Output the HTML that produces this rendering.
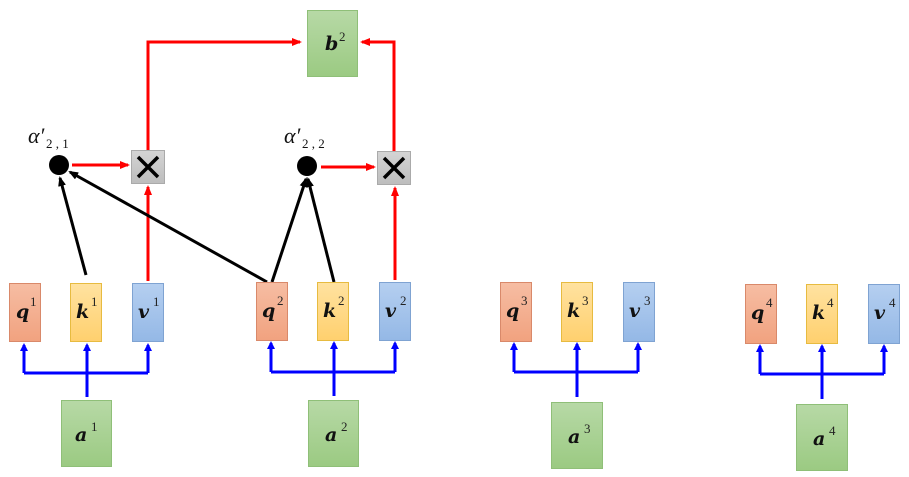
<!DOCTYPE html>
<html><head><meta charset="utf-8"><style>
html,body{margin:0;padding:0;background:#fff;}
svg{display:block;}
.lbl{font-family:"DejaVu Serif","Liberation Serif",serif;font-weight:bold;font-style:italic;font-size:19px;fill:#111;}
.sup{font-family:"Liberation Serif",serif;font-size:13px;fill:#222;}
.al{font-family:"Liberation Serif",serif;font-style:italic;font-size:22px;fill:#111;}
.als{font-family:"Liberation Serif",serif;font-size:13px;fill:#111;}
</style></head><body>
<svg width="909" height="477" viewBox="0 0 909 477" xmlns="http://www.w3.org/2000/svg">
<defs>
<linearGradient id="gq" x1="0" y1="0" x2="0" y2="1"><stop offset="0" stop-color="#f6bda3"/><stop offset="1" stop-color="#f1a27f"/></linearGradient>
<linearGradient id="gk" x1="0" y1="0" x2="0" y2="1"><stop offset="0" stop-color="#ffe2a0"/><stop offset="1" stop-color="#ffd06e"/></linearGradient>
<linearGradient id="gv" x1="0" y1="0" x2="0" y2="1"><stop offset="0" stop-color="#b5cff0"/><stop offset="1" stop-color="#94b8e6"/></linearGradient>
<linearGradient id="gg" x1="0" y1="0" x2="0" y2="1"><stop offset="0" stop-color="#b7d9a6"/><stop offset="1" stop-color="#9bca82"/></linearGradient>
<linearGradient id="gx" x1="0" y1="0" x2="0" y2="1"><stop offset="0" stop-color="#d4d4d4"/><stop offset="1" stop-color="#bdbdbd"/></linearGradient>
<marker id="ab" markerWidth="8" markerHeight="8" refX="6" refY="4" orient="auto" markerUnits="userSpaceOnUse"><path d="M0,0 L8,4 L0,8 z" fill="#0000ff"/></marker>
<marker id="ar" markerWidth="10" markerHeight="8" refX="8" refY="4" orient="auto" markerUnits="userSpaceOnUse"><path d="M0,0 L10,4 L0,8 z" fill="#ff0000"/></marker>
<marker id="ak" markerWidth="10" markerHeight="8" refX="8" refY="4" orient="auto" markerUnits="userSpaceOnUse"><path d="M0,0 L10,4 L0,8 z" fill="#000"/></marker>
</defs>

<g stroke="#0000ff" stroke-width="3" fill="none">
<path d="M24,373 H148"/><path d="M24,373 V345" marker-end="url(#ab)"/><path d="M148,373 V345" marker-end="url(#ab)"/><path d="M87,397 V345" marker-end="url(#ab)"/>
<path d="M271,372 H395"/><path d="M271,372 V343" marker-end="url(#ab)"/><path d="M395,372 V343" marker-end="url(#ab)"/><path d="M334,396 V343" marker-end="url(#ab)"/>
<path d="M514,372 H638"/><path d="M514,372 V344" marker-end="url(#ab)"/><path d="M638,372 V344" marker-end="url(#ab)"/><path d="M577,397 V344" marker-end="url(#ab)"/>
<path d="M760,374 H884"/><path d="M760,374 V346" marker-end="url(#ab)"/><path d="M884,374 V346" marker-end="url(#ab)"/><path d="M822,399 V346" marker-end="url(#ab)"/>
</g>

<g stroke="#ff0000" stroke-width="3" fill="none">
<path d="M148,281 V187" marker-end="url(#ar)"/>
<path d="M395,280 V188" marker-end="url(#ar)"/>
<path d="M72,165 H128" marker-end="url(#ar)"/>
<path d="M321,167 H374" marker-end="url(#ar)"/>
<path d="M148,150 V42 H300" marker-end="url(#ar)"/>
<path d="M394,151 V42 H362" marker-end="url(#ar)"/>
</g>

<g stroke="#000" stroke-width="3" fill="none">
<path d="M86,275 L60,178" marker-end="url(#ak)"/>
<path d="M267,282 L70,172" marker-end="url(#ak)"/>
<path d="M272,282 L306,179" marker-end="url(#ak)"/>
<path d="M334,282 L308,179" marker-end="url(#ak)"/>
</g>

<circle cx="59" cy="165" r="10" fill="#000"/>
<circle cx="307" cy="166" r="10" fill="#000"/>
<text class="al" x="28" y="143">α′</text><text class="als" x="46" y="148">2 , 1</text>
<text class="al" x="284" y="143">α′</text><text class="als" x="302" y="148">2 , 2</text>

<rect x="131.5" y="150.5" width="33" height="33" fill="url(#gx)" stroke="#aaa"/>
<path d="M138,157 L158,177 M158,157 L138,177" stroke="#000" stroke-width="3.5"/>
<rect x="377.5" y="151.5" width="33" height="33" fill="url(#gx)" stroke="#aaa"/>
<path d="M384,158 L404,178 M404,158 L384,178" stroke="#000" stroke-width="3.5"/>

<rect x="307.5" y="10.5" width="50" height="66" fill="url(#gg)" stroke="#8fbf78"/>
<text class="lbl" x="325" y="50">b</text><text class="sup" x="339" y="41">2</text>

<g stroke-width="1">
<rect x="9.5" y="283.5" width="31" height="58" fill="url(#gq)" stroke="#d9896a"/>
<rect x="70.5" y="283.5" width="31" height="58" fill="url(#gk)" stroke="#e7bb40"/>
<rect x="132.5" y="283.5" width="31" height="58" fill="url(#gv)" stroke="#7fa3d2"/>
<rect x="256.5" y="282.5" width="31" height="58" fill="url(#gq)" stroke="#d9896a"/>
<rect x="317.5" y="282.5" width="31" height="58" fill="url(#gk)" stroke="#e7bb40"/>
<rect x="379.5" y="282.5" width="31" height="58" fill="url(#gv)" stroke="#7fa3d2"/>
<rect x="500.5" y="282.5" width="31" height="59" fill="url(#gq)" stroke="#d9896a"/>
<rect x="561.5" y="282.5" width="31" height="59" fill="url(#gk)" stroke="#e7bb40"/>
<rect x="623.5" y="282.5" width="31" height="59" fill="url(#gv)" stroke="#7fa3d2"/>
<rect x="745.5" y="284.5" width="31" height="59" fill="url(#gq)" stroke="#d9896a"/>
<rect x="806.5" y="284.5" width="31" height="59" fill="url(#gk)" stroke="#e7bb40"/>
<rect x="868.5" y="284.5" width="31" height="59" fill="url(#gv)" stroke="#7fa3d2"/>
<rect x="61.5" y="400.5" width="50" height="66" fill="url(#gg)" stroke="#8fbf78"/>
<rect x="308.5" y="400.5" width="50" height="66" fill="url(#gg)" stroke="#8fbf78"/>
<rect x="551.5" y="402.5" width="51" height="66" fill="url(#gg)" stroke="#8fbf78"/>
<rect x="796.5" y="404.5" width="51" height="66" fill="url(#gg)" stroke="#8fbf78"/>
</g>

<g>
<text class="lbl" x="16" y="318">q</text><text class="sup" x="30" y="306">1</text>
<text class="lbl" x="76" y="318">k</text><text class="sup" x="91" y="306">1</text>
<text class="lbl" x="138" y="318">v</text><text class="sup" x="153" y="306">1</text>
<text class="lbl" x="262" y="317">q</text><text class="sup" x="277" y="305">2</text>
<text class="lbl" x="323" y="317">k</text><text class="sup" x="338" y="305">2</text>
<text class="lbl" x="385" y="317">v</text><text class="sup" x="400" y="305">2</text>
<text class="lbl" x="506" y="317">q</text><text class="sup" x="521" y="305">3</text>
<text class="lbl" x="567" y="317">k</text><text class="sup" x="582" y="305">3</text>
<text class="lbl" x="629" y="317">v</text><text class="sup" x="644" y="305">3</text>
<text class="lbl" x="751" y="319">q</text><text class="sup" x="766" y="307">4</text>
<text class="lbl" x="812" y="319">k</text><text class="sup" x="827" y="307">4</text>
<text class="lbl" x="874" y="319">v</text><text class="sup" x="889" y="307">4</text>
<text class="lbl" x="75" y="441">a</text><text class="sup" x="91" y="431">1</text>
<text class="lbl" x="325" y="441">a</text><text class="sup" x="341" y="431">2</text>
<text class="lbl" x="568" y="443">a</text><text class="sup" x="584" y="433">3</text>
<text class="lbl" x="813" y="445">a</text><text class="sup" x="829" y="435">4</text>
</g>
</svg>
</body></html>
